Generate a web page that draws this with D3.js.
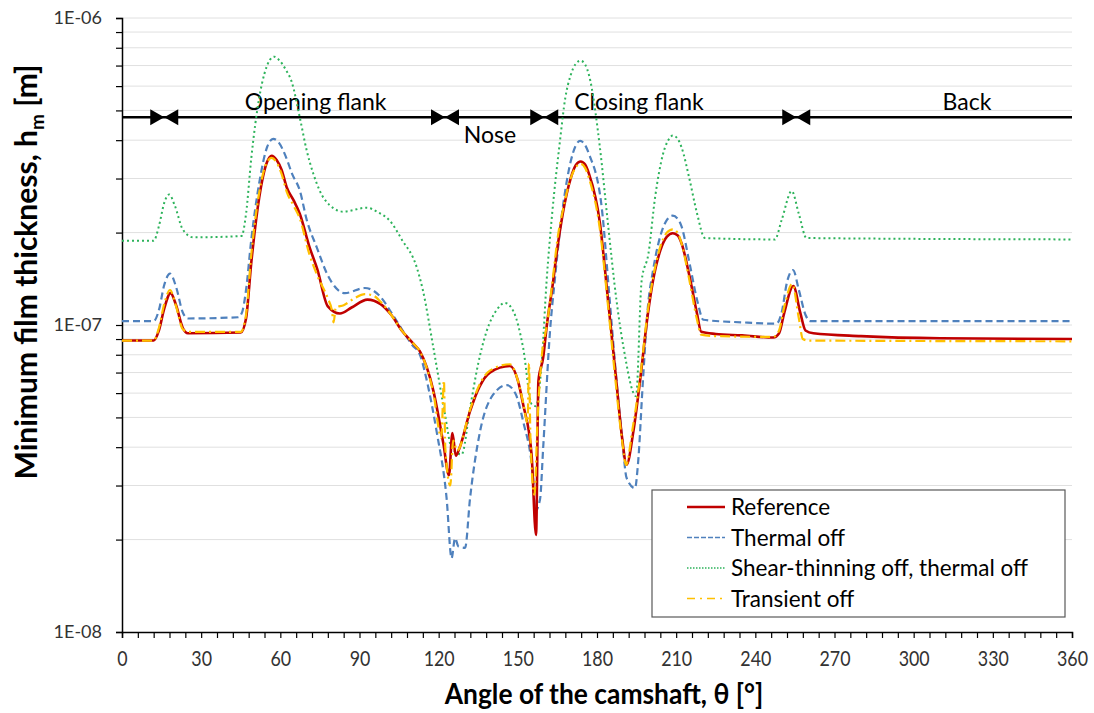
<!DOCTYPE html>
<html>
<head>
<meta charset="utf-8">
<script src="https://cdn.jsdelivr.net/npm/d3@7"></script>
<style>
  html, body { margin: 0; padding: 0; background: #fff; }
  svg { display: block; font-family: Lato, "Open Sans", sans-serif; }
</style>
</head>
<body>
<svg id="chart" width="1094" height="713"></svg>
<script>
// ---------------- DATA ----------------
const refTheta = [0,12,14,16,18.4,20.5,23,25,45,47,49,52,55,56.7,58.6,60.5,62.4,65,67.4,71,74,78,82.6,87,93,98,102,106,110.4,112.9,118,121.8,123.9,125.2,126.5,128,131.9,135.5,139.4,147,150,152,155.2,156.9,157.8,159.6,161,163.4,164.7,167,170,172,173.8,175.5,177,181.1,184.2,187,189.5,191.2,193.8,196.3,199.3,201.2,204,206.5,208.7,210.5,212,215,217.8,219.5,225,235,246.8,249,251,254.4,257,259,262,280,310,360];
const refH     = [8.9e-8,8.9e-8,9.6e-8,1.13e-7,1.27e-7,1.16e-7,9.8e-8,9.4e-8,9.45e-8,1.05e-7,1.6e-7,2.6e-7,3.4e-7,3.56e-7,3.45e-7,3.2e-7,2.81e-7,2.55e-7,2.3e-7,1.8e-7,1.52e-7,1.15e-7,1.09e-7,1.14e-7,1.21e-7,1.17e-7,1.08e-7,9.6e-8,8.7e-8,8.2e-8,6.1e-8,4.1e-8,3.24e-8,4.45e-8,3.75e-8,4.0e-8,5.24e-8,6.3e-8,7.0e-8,7.35e-8,6.6e-8,5.52e-8,3.79e-8,2.07e-8,6.57e-8,7.83e-8,1.0e-7,1.39e-7,1.71e-7,2.3e-7,3.0e-7,3.32e-7,3.41e-7,3.33e-7,3.1e-7,2.15e-7,1.2e-7,7.0e-8,4.3e-8,3.51e-8,4.51e-8,6.57e-8,1.09e-7,1.39e-7,1.75e-7,1.94e-7,1.99e-7,1.96e-7,1.85e-7,1.45e-7,1.1e-7,9.5e-8,9.35e-8,9.25e-8,9.1e-8,9.4e-8,1.1e-7,1.34e-7,1.1e-7,9.6e-8,9.4e-8,9.2e-8,9.05e-8,9.0e-8];

const thermTheta = [0,12,14,16,18.2,20.5,23,25,44,45.5,47,49,52,55,57.3,59.5,62,64.5,67.4,70,73.8,78,84.5,92,97.8,102,106,110,112.9,116,119.2,123,124.9,126.2,127.5,130,131.9,135.7,140.7,145.8,149,152,155.9,156.5,158.4,159.6,162.2,164,167,170,172,173.6,175.3,177,181.8,184.5,187,189.5,191.2,194.4,195.5,197.4,199.3,201.2,204,206.5,208.7,210.5,212,215,218,220.3,235,248,250,252,254.3,256.5,259,260.7,360];
const thermH     = [1.03e-7,1.03e-7,1.12e-7,1.35e-7,1.47e-7,1.33e-7,1.1e-7,1.05e-7,1.06e-7,1.1e-7,1.3e-7,1.9e-7,2.9e-7,3.8e-7,4.04e-7,3.92e-7,3.55e-7,3.1e-7,2.74e-7,2.2e-7,1.79e-7,1.45e-7,1.27e-7,1.32e-7,1.24e-7,1.1e-7,9.7e-8,8.6e-8,8.0e-8,6.3e-8,4.51e-8,2.73e-8,1.74e-8,2.02e-8,1.9e-8,1.88e-8,2.73e-8,4.51e-8,5.94e-8,6.37e-8,6.0e-8,4.86e-8,3.1e-8,2.47e-8,2.7e-8,3.98e-8,9.56e-8,1.4e-7,2.4e-7,3.4e-7,3.85e-7,3.98e-7,3.88e-7,3.6e-7,2.41e-7,1.3e-7,7.2e-8,4.3e-8,3.18e-8,2.94e-8,3.5e-8,6.57e-8,1.15e-7,1.5e-7,1.95e-7,2.2e-7,2.27e-7,2.22e-7,2.1e-7,1.6e-7,1.2e-7,1.04e-7,1.02e-7,1.01e-7,1.1e-7,1.38e-7,1.51e-7,1.3e-7,1.08e-7,1.03e-7,1.03e-7];

const shearTheta = [0,12,14,16,17.9,20,23,27,45.3,47,49,52,54,56,57.7,59.5,62,64.3,67.4,70,72.5,77,83.9,92.7,97,101.6,106,111.7,114,118,122.4,124.9,128.7,131.9,135,138.2,142,145.1,148.5,152,155.3,156.9,159,160.9,163,166,168,170,172,173.8,175.5,177,181.1,184,187.4,190,194.8,196.9,199.5,202,205,207,208.7,210.5,212,215,217.8,220.9,247.4,250,253.8,256.5,259.4,360];
const shearH     = [1.88e-7,1.88e-7,2.1e-7,2.5e-7,2.66e-7,2.45e-7,2.05e-7,1.93e-7,1.95e-7,2.3e-7,3.5e-7,5.5e-7,6.6e-7,7.3e-7,7.48e-7,7.3e-7,6.8e-7,6.2e-7,4.73e-7,3.7e-7,3.11e-7,2.55e-7,2.34e-7,2.41e-7,2.33e-7,2.18e-7,1.9e-7,1.54e-7,1.3e-7,8.43e-8,5.11e-8,3.98e-8,3.79e-8,5.37e-8,7.5e-8,9.56e-8,1.12e-7,1.18e-7,1.1e-7,8.43e-8,5.51e-8,5.44e-8,7.44e-8,1.39e-7,2.3e-7,4.0e-7,5.5e-7,6.5e-7,7.1e-7,7.26e-7,7.05e-7,6.5e-7,3.79e-7,2.2e-7,1.2e-7,8.5e-8,5.87e-8,1.39e-7,1.71e-7,2.6e-7,3.6e-7,4.0e-7,4.14e-7,4.05e-7,3.8e-7,3.0e-7,2.33e-7,1.92e-7,1.9e-7,2.2e-7,2.73e-7,2.3e-7,1.92e-7,1.9e-7];

const transTheta = [0,12,14,16,18.2,20.5,23,25,45,47,49,52,55,56.7,58.6,60.5,62.4,65,67.4,71,74,78,79.5,80.2,81,84,88,92,95,98,102,106,110.4,112.9,118,121,122,122.5,124.4,125.5,127,131.9,135.5,139.4,147,150,152,153.7,154.2,154.8,156.3,157.5,159,161,163.4,165,167,170,172,173.8,175.5,177,181.1,184.2,187,189.5,191,193.5,196.3,199.3,201.2,204,206.5,208.7,210.5,212,215,217.8,219.5,225,246.8,249,251,254,256.5,258,260,360];
const transH     = [8.9e-8,8.9e-8,9.8e-8,1.17e-7,1.3e-7,1.15e-7,9.7e-8,9.5e-8,9.5e-8,1.08e-7,1.7e-7,2.7e-7,3.4e-7,3.5e-7,3.38e-7,3.1e-7,2.72e-7,2.45e-7,2.22e-7,1.7e-7,1.45e-7,1.22e-7,1.12e-7,1.02e-7,1.14e-7,1.16e-7,1.22e-7,1.26e-7,1.25e-7,1.19e-7,1.08e-7,9.6e-8,8.7e-8,8.2e-8,6.0e-8,4.3e-8,6.6e-8,4.0e-8,3.0e-8,4.2e-8,3.9e-8,5.3e-8,6.4e-8,7.1e-8,7.45e-8,6.6e-8,5.6e-8,4.8e-8,7.5e-8,4.2e-8,2.8e-8,5.0e-8,7.8e-8,1.0e-7,1.45e-7,1.9e-7,2.35e-7,3.0e-7,3.27e-7,3.35e-7,3.25e-7,3.0e-7,2.05e-7,1.15e-7,6.6e-8,4.2e-8,3.5e-8,4.6e-8,6.7e-8,1.12e-7,1.42e-7,1.8e-7,2.0e-7,2.05e-7,2.0e-7,1.85e-7,1.4e-7,1.05e-7,9.3e-8,9.2e-8,9.15e-8,9.6e-8,1.15e-7,1.36e-7,1.05e-7,9.0e-8,8.9e-8,8.85e-8];

const seriesNames = ["Reference", "Thermal off", "Shear-thinning off, thermal off", "Transient off"];

const xTickLabels = [0,30,60,90,120,150,180,210,240,270,300,330,360];
const yTickValues = [1e-8, 1e-7, 1e-6];
const yTickLabels = ["1E-08", "1E-07", "1E-06"];

const sectionBounds = [0, 16, 122.4, 160, 255.5, 360];
const sectionNames  = ["Opening flank", "Nose", "Closing flank", "Back"];
const sectionLabelTheta = [73.4, 139.4, 195.9, 320.2];
const sectionLevel = 4.75e-7;

// ---------------- LAYOUT ----------------
const svg = d3.select("#chart");
const W = 1094, H = 713;
const L = 122, R = 1072, T = 18, B = 632;

const x = d3.scaleLinear().domain([0, 360]).range([L, R]);
const y = d3.scaleLog().domain([1e-8, 1e-6]).range([B, T]);

svg.append("rect").attr("width", W).attr("height", H).attr("fill", "#fff");

// gridlines at every log tick
const gridVals = y.ticks();
svg.append("g").selectAll("line").data(gridVals.filter(v => v > 1e-8)).join("line")
  .attr("x1", L).attr("x2", R)
  .attr("y1", d => y(d)).attr("y2", d => y(d))
  .attr("stroke", "#e0e0e0").attr("stroke-width", 1);

// y axis
const yAxis = d3.axisLeft(y).tickValues(gridVals).tickSize(6)
  .tickFormat(d => { const i = yTickValues.findIndex(v => Math.abs(v - d) / d < 1e-6); return i >= 0 ? yTickLabels[i] : ""; });
const gy = svg.append("g").attr("transform", `translate(${L},0)`).call(yAxis);
gy.select(".domain").attr("stroke", "#000").attr("stroke-width", 1.5);
gy.selectAll(".tick line").attr("stroke", "#000").attr("stroke-width", 1.2);
gy.selectAll(".tick text").attr("font-size", 18).attr("fill", "#333")
  .attr("font-family", "Lato, sans-serif").attr("x", -20);

// x axis
const xAxis = d3.axisBottom(x).tickValues(d3.range(0, 361, 6)).tickSize(6)
  .tickFormat(d => xTickLabels.includes(d) ? d : "");
const gx = svg.append("g").attr("transform", `translate(0,${B})`).call(xAxis);
gx.select(".domain").attr("stroke", "#000").attr("stroke-width", 1.5);
gx.selectAll(".tick line").attr("stroke", "#000").attr("stroke-width", 1.2);
gx.selectAll(".tick text").attr("font-size", 21).attr("fill", "#333")
  .attr("font-family", "Lato, sans-serif").attr("y", 19).attr("x", 0)
  .attr("transform", "scale(0.85,1)");

// axis titles
svg.append("text").attr("x", 604).attr("y", 704).attr("text-anchor", "middle")
  .attr("font-size", 29).attr("font-weight", "bold").attr("fill", "#000")
  .attr("transform", "translate(604,0) scale(0.91,1) translate(-604,0)")
  .text("Angle of the camshaft, θ [°]");

const yt = svg.append("text").attr("transform", "translate(37,272) rotate(-90)")
  .attr("text-anchor", "middle").attr("font-size", 30).attr("font-weight", "bold").attr("fill", "#000");
yt.append("tspan").text("Minimum film thickness, h");
yt.append("tspan").attr("font-size", 19).attr("dy", 7).text("m");
yt.append("tspan").attr("dy", -7).text(" [m]");

// section annotations
const secG = svg.append("g");
const ly = y(sectionLevel);
secG.append("line").attr("x1", x(0)).attr("x2", x(360)).attr("y1", ly).attr("y2", ly)
  .attr("stroke", "#000").attr("stroke-width", 2.5);
sectionBounds.slice(1, -1).forEach(b => {
  const bx = x(b);
  secG.append("path").attr("d", `M${bx - 14},${ly - 8}L${bx},${ly}L${bx - 14},${ly + 8}Z`).attr("fill", "#000");
  secG.append("path").attr("d", `M${bx + 14},${ly - 8}L${bx},${ly}L${bx + 14},${ly + 8}Z`).attr("fill", "#000");
});
sectionNames.forEach((n, i) => {
  const below = n === "Nose";
  secG.append("text").attr("x", x(sectionLabelTheta[i])).attr("y", below ? ly + 26 : ly - 7)
    .attr("text-anchor", "middle").attr("font-size", 23).attr("fill", "#000").text(n);
});

// clip
svg.append("clipPath").attr("id", "clip").append("rect")
  .attr("x", L).attr("y", T).attr("width", R - L).attr("height", B - T);

const line = d3.line().x(d => x(d[0])).y(d => y(d[1])).curve(d3.curveMonotoneX);
const zip = (a, b) => a.map((v, i) => [v, b[i]]);

const styles = [
  { data: zip(refTheta, refH),     color: "#c00000", width: 2.6, dash: null },
  { data: zip(thermTheta, thermH), color: "#4f81bd", width: 2.2, dash: "7,4" },
  { data: zip(shearTheta, shearH), color: "#2db35b", width: 2.0, dash: "2,3" },
  { data: zip(transTheta, transH), color: "#ffc000", width: 2.2, dash: "10,4,2,4" }
];
const drawOrder = [2, 1, 0, 3];
const plotG = svg.append("g").attr("clip-path", "url(#clip)");
drawOrder.forEach(i => {
  const s = styles[i];
  plotG.append("path").datum(s.data).attr("d", line)
    .attr("fill", "none").attr("stroke", s.color).attr("stroke-width", s.width)
    .attr("stroke-dasharray", s.dash).attr("stroke-linejoin", "round");
});

// legend
const lg = svg.append("g");
lg.append("rect").attr("x", 652).attr("y", 490).attr("width", 413).attr("height", 127)
  .attr("fill", "#fff").attr("stroke", "#595959").attr("stroke-width", 1.2);
seriesNames.forEach((n, i) => {
  const ry = 507 + i * 30.5;
  const s = styles[i];
  lg.append("line").attr("x1", 687).attr("x2", 725).attr("y1", ry).attr("y2", ry)
    .attr("stroke", s.color).attr("stroke-width", i === 0 ? 2.4 : 1.6)
    .attr("stroke-dasharray", i === 1 ? "5,2" : i === 2 ? "1.5,1.5" : i === 3 ? "8,5,2,5" : null);
  lg.append("text").attr("x", 731).attr("y", ry + 8).attr("font-size", 22.5).attr("fill", "#000").text(n);
});
</script>
</body>
</html>
